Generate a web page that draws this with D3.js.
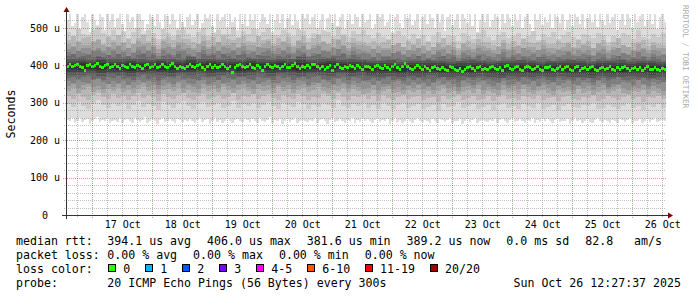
<!DOCTYPE html>
<html lang="en">
<head>
  <meta charset="UTF-8">
  <title>Smokeping - 10 days</title>
  <script src="https://cdn.jsdelivr.net/npm/d3@7/dist/d3.min.js"></script>
  <style>
    body { margin: 0; background: #fff; }
    svg { display: block; font-family: 'DejaVu Sans Mono', monospace; }
  </style>
</head>
<body>
<div id="grafica"></div>

<script>
// median rtt per hour (us), 240 hourly steps
const median = [
  398,401,396,399,403,397,394,386,399,402,396,400,404,397,393,399,401,395,398,403,396,392,399,397,
  394,402,398,393,400,396,391,399,403,395,398,401,394,397,402,396,393,400,404,397,392,398,395,391,
  396,401,397,393,399,403,394,390,398,402,395,399,393,397,401,396,392,398,381.6,395,399,403,398,394,
  397,401,395,392,399,394,386,398,403,396,393,400,397,391,398,402,395,393,399,404,396,392,398,395,
  399,394,401,403,396,392,398,390,395,400,385,397,402,395,391,398,394,400,397,392,399,395,390,396,
  398,393,390,396,400,394,391,399,395,389,397,401,393,390,396,406,398,392,389,395,399,393,390,396,
  391,387,394,398,392,389,395,390,386,397,393,389,386,392,383,390,395,398,391,387,393,396,389,392,
  389,395,398,392,388,393,387,396,399,391,388,394,397,390,386,393,398,395,389,392,396,390,387,394,
  393,397,390,386,392,396,389,394,398,390,387,393,396,386,391,395,389,393,397,390,387,392,395,389,
  392,396,390,387,393,389,395,397,391,386,392,395,389,393,387,391,396,390,388,393,390,386,392,389.2
]

// fastest ping of each hour (us)
const ping01 = [
  255,250,258,246,252,260,249,254,257,244,251,256,262,248,253,250,258,245,252,255,249,259,247,253,
  256,251,247,258,253,249,255,261,246,252,257,250,244,254,259,248,252,256,250,245,257,253,249,255,
  250,257,252,246,254,260,248,253,256,243,251,258,249,255,247,252,259,250,246,254,257,251,248,256,
  253,248,256,250,245,258,252,249,255,261,247,253,250,257,244,251,256,249,254,258,246,252,255,250,
  249,255,251,258,246,253,257,250,244,254,259,248,252,256,250,247,255,251,258,245,253,249,256,252,
  257,250,246,254,259,248,253,251,256,243,252,258,249,255,247,251,257,250,246,254,258,251,248,255,
  252,247,256,250,245,257,253,249,255,260,246,252,250,256,244,251,257,249,253,258,247,252,254,250,
  248,255,251,257,246,253,256,250,245,254,259,248,251,256,250,247,255,252,258,245,253,249,256,251,
  256,250,247,254,258,248,252,251,257,244,252,258,250,255,246,251,257,249,246,254,259,251,248,255,
  251,247,255,250,246,257,253,249,254,260,247,252,250,256,245,251,256,249,253,258,248,252,255,250
]

// lower pings, one value per 2 hours (us)
const ping02 = [
  296,288,303,291,284,299,306,293,287,300,290,298,283,295,304,289,297,292,281,301,
  294,286,299,305,290,283,296,302,288,293,299,287,292,304,285,297,291,300,286,295,
  303,290,284,298,293,288,301,296,282,294,289,300,295,287,306,292,285,297,291,299,
  287,295,282,298,290,284,293,300,286,291,296,283,289,294,279,297,288,292,301,285,
  290,297,284,288,295,281,293,299,287,290,283,296,291,286,298,284,289,294,280,292,
  297,288,285,293,290,299,282,287,295,289,284,292,298,286,291,280,294,289,296,287
]
const ping03 = [
  318,311,324,314,308,321,326,315,310,322,313,319,306,317,325,312,320,315,305,323,
  316,309,321,327,313,307,318,324,311,316,321,310,315,325,308,319,314,322,309,317,
  324,313,307,320,316,311,322,318,306,316,312,322,317,310,327,315,308,319,314,321,
  310,317,305,320,313,307,315,322,309,314,318,306,312,316,303,319,311,315,322,308,
  313,319,307,311,317,304,315,321,310,313,306,318,314,309,320,307,312,316,304,315,
  319,311,308,315,313,321,305,310,317,312,307,314,320,309,314,303,316,312,318,310
]
const ping04 = [
  331,338,327,335,341,329,333,325,337,332,340,328,334,326,336,342,330,335,324,333,
  337,331,340,327,334,329,325,339,332,336,328,342,333,326,335,339,330,324,337,332,
  334,327,341,331,336,325,333,338,329,335,342,330,326,334,332,339,328,336,331,324,
  327,333,322,331,337,325,329,321,333,328,335,324,330,322,332,338,326,331,320,329,
  333,327,336,323,330,325,321,335,328,332,324,337,329,322,331,335,326,320,333,328,
  330,323,336,327,332,321,329,334,325,331,338,326,322,330,328,335,324,332,327,320
]
const ping05 = [
  344,350,339,347,353,341,345,337,349,343,351,340,346,338,348,354,342,347,336,345,
  349,343,352,339,346,341,337,350,344,348,340,353,345,338,347,351,342,336,349,344,
  346,339,352,343,348,337,345,350,341,347,353,342,338,346,344,351,340,348,343,336,
  340,346,335,343,349,337,341,333,345,339,347,336,342,334,344,350,338,343,332,341,
  345,339,348,335,342,337,333,346,340,344,336,349,341,334,343,347,338,332,345,340,
  342,335,348,339,344,333,341,346,337,343,349,338,334,342,340,347,336,344,339,332
]
const ping06 = [
  358,352,361,355,349,360,363,354,351,359,353,357,348,356,362,352,358,355,347,361,
  356,350,359,364,353,349,357,362,351,355,360,351,354,363,349,358,353,360,350,356,
  362,353,348,359,356,352,361,357,347,355,352,360,356,350,364,354,349,358,353,359,
  354,348,357,351,345,356,359,350,347,355,349,353,344,352,358,348,354,351,343,357,
  352,346,355,360,349,345,353,358,347,351,356,347,350,359,345,354,349,356,346,352,
  358,349,344,355,352,348,357,353,343,351,348,356,352,346,360,350,345,354,349,355
]
const ping07 = [
  366,370,363,368,372,364,367,361,369,365,371,363,367,360,368,373,364,368,359,366,
  369,365,371,362,367,363,360,370,366,368,362,372,367,361,368,370,364,359,369,366,
  367,361,371,365,369,360,366,370,363,368,372,364,361,367,366,370,362,368,365,359,
  362,366,359,364,368,360,363,357,365,361,367,359,363,356,364,369,360,364,355,362,
  365,361,367,358,363,359,356,366,362,364,358,368,363,357,364,366,360,355,365,362,
  363,357,367,361,365,356,362,366,359,364,368,360,357,363,362,366,358,364,361,355
]

// pings around the median, one value per 4 hours (us)
const ping08 = [375,373,377,372,376,374,371,376,377,373,372,376,375,377,372,374,376,371,375,377,372,376,374,371,376,375,372,376,371,374,
                371,369,372,368,371,370,373,368,369,371,368,372,370,367,371,369,368,371,370,372,368,369,367,371,370,368,371,369,367,370]
const ping09 = [382,381,384,380,383,382,379,383,384,381,380,383,382,384,380,381,383,379,382,384,380,383,381,379,383,382,380,383,379,381,
                378,377,379,376,378,377,380,376,377,378,376,379,377,375,378,377,376,378,377,379,376,377,375,378,377,376,378,377,375,377]
const ping10 = [389,388,390,387,389,388,386,389,390,388,387,389,388,390,387,388,389,386,388,390,387,389,388,386,389,388,387,389,386,388,
                385,384,386,383,385,384,386,383,384,385,383,386,384,382,385,384,383,385,384,386,383,384,382,385,384,383,385,384,382,384]
const ping11 = [404,405,403,406,404,403,405,404,402,405,404,403,406,404,405,403,404,402,405,404,403,405,404,406,403,404,405,403,404,402,
                400,399,401,398,400,399,401,400,398,399,401,400,398,400,399,401,400,398,399,400,401,399,398,400,399,401,398,400,399,398]
const ping12 = [410,412,409,413,410,409,412,410,408,411,410,409,413,410,411,409,410,408,412,410,409,411,410,413,409,410,412,409,410,408,
                406,405,407,404,406,405,407,406,404,405,407,406,404,406,405,407,406,404,405,406,407,405,404,406,405,407,404,406,405,404]
const ping13 = [417,419,415,421,417,416,419,417,414,418,417,415,421,417,418,415,417,414,419,417,415,418,417,421,415,417,419,415,417,414,
                412,411,414,409,412,411,414,412,409,411,414,412,409,412,411,414,412,409,411,412,414,411,409,412,411,414,409,412,411,409]

// upper pings, one value per 2 hours (us)
const ping14 = [
  424,429,421,426,431,422,425,419,428,423,430,421,426,418,427,432,422,427,417,425,
  428,423,430,420,426,421,418,429,424,427,420,431,426,419,427,429,422,417,428,424,
  425,419,430,423,428,418,424,429,421,426,431,422,419,425,424,429,420,427,423,417,
  418,423,415,421,426,416,420,413,422,417,424,415,420,412,421,426,416,421,411,419,
  422,417,424,414,420,415,412,423,418,421,414,425,420,413,421,423,417,411,422,418,
  419,413,424,417,422,412,418,423,415,420,425,416,413,419,418,423,414,421,417,411
]
const ping15 = [
  435,429,439,432,427,438,442,433,428,437,431,436,426,434,441,430,437,433,425,440,
  434,428,438,443,431,426,436,441,429,433,439,429,432,442,427,437,431,439,428,435,
  441,431,426,438,434,430,440,436,425,433,430,439,435,428,443,432,427,437,431,438,
  429,423,433,426,421,432,436,427,422,431,425,430,420,428,435,424,431,427,419,434,
  428,422,431,437,425,421,429,435,423,427,432,423,426,436,421,430,425,433,422,428,
  435,425,420,431,428,424,434,430,419,427,424,433,428,422,437,426,421,430,425,431
]
const ping16 = [
  444,451,439,447,455,441,446,437,450,443,453,440,447,436,449,456,442,448,434,446,
  450,443,453,438,447,440,436,452,444,449,439,455,447,437,448,452,441,435,450,445,
  446,437,453,442,449,435,445,451,440,447,456,442,437,446,444,452,439,449,443,434,
  436,443,432,440,447,434,439,430,441,437,445,433,439,429,441,448,434,440,428,438,
  442,436,445,431,439,433,429,444,437,441,431,446,440,430,441,444,435,428,442,438,
  439,430,446,436,442,428,438,444,433,440,447,434,429,438,436,444,432,441,437,427
]
const ping17 = [
  458,450,465,454,447,463,468,455,449,462,452,459,445,457,466,451,460,454,443,464,
  456,448,462,469,453,446,458,466,450,455,463,449,454,467,446,460,453,462,448,457,
  466,452,445,461,456,450,464,459,444,455,451,462,457,448,469,454,446,460,453,461,
  451,444,457,447,441,455,460,448,442,454,446,452,439,450,458,444,453,449,437,457,
  450,443,455,461,447,441,451,459,444,449,455,445,448,460,441,453,447,457,443,450,
  458,447,440,454,451,445,456,452,438,449,445,455,450,442,461,447,441,453,446,454
]
const ping18 = [
  468,477,462,472,482,464,469,458,476,467,480,463,471,457,474,484,465,473,455,469,
  476,467,480,460,471,463,456,478,468,475,461,483,471,459,474,479,464,455,477,468,
  470,458,481,466,475,455,468,478,462,472,484,465,458,470,468,479,461,474,466,454,
  457,466,451,462,471,455,460,449,464,458,469,453,461,449,463,473,455,462,447,460,
  465,457,469,451,461,453,448,467,458,464,451,470,462,450,463,468,456,446,466,459,
  461,450,470,457,464,447,459,468,453,462,472,455,448,460,458,467,452,463,457,445
]
const ping19 = [
  490,479,497,484,476,495,501,486,478,494,482,491,474,488,500,480,493,485,471,497,
  487,477,494,503,483,475,490,499,479,486,495,478,484,501,475,492,483,496,477,489,
  500,482,474,494,487,479,498,491,472,486,481,495,488,477,503,484,475,492,483,494,
  480,472,487,475,468,484,491,477,470,483,474,481,466,479,489,472,482,478,464,487,
  479,471,485,493,476,468,480,490,473,478,486,473,477,492,468,483,476,488,470,480,
  490,475,467,484,481,474,487,482,463,478,473,486,480,470,493,476,469,483,475,485
]

// slowest ping of each hour (us)
const ping20 = [
  520,537,505,512,537,498,530,537,515,490,537,522,508,537,530,495,537,518,537,502,525,537,510,488,
  537,515,530,500,537,537,520,492,510,537,528,505,537,515,498,537,532,510,537,520,500,537,515,495,
  530,537,508,520,537,497,512,537,525,537,505,490,537,518,530,537,502,537,515,528,495,537,510,537,
  505,537,522,537,498,515,537,530,510,537,488,520,537,512,537,500,525,537,508,537,518,495,537,526,
  537,510,530,537,500,518,537,492,525,537,512,537,505,530,537,498,520,537,510,537,528,502,537,515,
  522,537,498,510,537,530,537,505,515,537,490,528,537,512,500,537,525,537,508,518,537,495,530,537,
  510,537,526,500,537,515,537,492,530,537,508,520,537,498,537,525,512,537,505,537,490,522,537,515,
  537,502,520,537,530,495,537,512,537,525,505,537,518,537,500,528,537,510,492,537,520,537,508,530,
  515,537,500,537,528,512,537,495,520,537,505,537,530,510,537,498,525,537,515,537,502,537,520,508,
  537,512,530,537,495,520,537,508,537,525,500,537,515,532,537,505,520,537,510,537,498,528,537,515
]

const yTicks = [0, 100, 200, 300, 400, 500]
const yTickLabels = ['  0  ', '100 u', '200 u', '300 u', '400 u', '500 u']

const rttStats = ['394.1 us avg', '406.0 us max', '381.6 us min', '389.2 us now', '0.0 ms sd', '82.8   am/s']
const lossStats = ['0.00 % avg', '0.00 % max', '0.00 % min', '0.00 % now']
const lossLabels = ['0', '1', '2', '3', '4-5', '6-10', '11-19', '20/20']
const lossColors = ['#26ff00', '#00b8ff', '#0059ff', '#7e00ff', '#ff00ff', '#ff5500', '#ff0000', '#a10000']
const probeText = '20 ICMP Echo Pings (56 Bytes) every 300s'
const stampText = 'Sun Oct 26 12:27:37 2025'

// smoke shades, outer band to inner band
const greys = ['#dddddd', '#cacaca', '#b7b7b7', '#a4a4a4', '#919191', '#7e7e7e', '#6b6b6b', '#585858', '#454545', '#323232']

ancho_total = 697
alto_total = 297
margin = { left: 66, top: 14, right: 31, bottom: 82 }
ancho = 600
alto = 201

svg = d3.select('#grafica')
  .append('svg')
  .attr('width', ancho_total)
  .attr('height', alto_total)

start = new Date(2025, 9, 16, 13, 30)
end = d3.timeHour.offset(start, median.length)

x = d3.scaleTime()
  .domain([start, end])
  .range([margin.left, margin.left + ancho])
y = d3.scaleLinear()
  .domain([0, 537])
  .range([margin.top + alto, margin.top])

// value of array for column i, whatever its resolution
pick = (arr, i, n) => arr[Math.min(arr.length - 1, Math.floor(i * arr.length / n))]

pings = [ping01, ping02, ping03, ping04, ping05, ping06, ping07, ping08, ping09, ping10,
         ping11, ping12, ping13, ping14, ping15, ping16, ping17, ping18, ping19, ping20]

n = median.length
columns = d3.range(n).map(i => ({
  t: d3.timeHour.offset(start, i),
  p: pings.map(a => pick(a, i, n)).sort(d3.ascending),
  m: median[i]
}))
stepData = columns.concat([{ t: end, p: columns[n - 1].p, m: columns[n - 1].m }])

// smoke
smoke = svg.append('g').attr('shape-rendering', 'crispEdges')
greys.forEach((c, k) => {
  area = d3.area()
    .curve(d3.curveStepAfter)
    .x(d => x(d.t))
    .y0(d => y(d.p[k]))
    .y1(d => y(d.p[19 - k]))
  smoke.append('path')
    .attr('fill', c)
    .attr('d', area(stepData))
})

// median, coloured by loss (all 0 here)
medArea = d3.area()
  .curve(d3.curveStepAfter)
  .x(d => x(d.t))
  .y0(d => y(d.m) + 1.5)
  .y1(d => y(d.m) - 1.5)
svg.append('path')
  .attr('fill', lossColors[0])
  .attr('shape-rendering', 'crispEdges')
  .attr('d', medArea(stepData))

// grid on top
grid = svg.append('g').attr('shape-rendering', 'crispEdges').attr('stroke-dasharray', '1,1')
y0 = margin.top + alto
y1 = margin.top
x0 = margin.left
x1 = margin.left + ancho

days = d3.timeDay.range(start, end)
minorX = d3.timeHour.every(6).range(start, end).filter(d => d.getHours() !== 0)
minorY = d3.range(20, 537, 20).filter(v => v % 100 !== 0)
majorY = yTicks.filter(v => v > 0)

grid.selectAll('.mx').data(minorX).enter().append('line')
  .attr('x1', d => Math.round(x(d)) + 0.5).attr('x2', d => Math.round(x(d)) + 0.5)
  .attr('y1', y0 + 2).attr('y2', y1)
  .attr('stroke', 'rgba(140,140,140,0.55)')
grid.selectAll('.my').data(minorY).enter().append('line')
  .attr('y1', d => Math.round(y(d)) + 0.5).attr('y2', d => Math.round(y(d)) + 0.5)
  .attr('x1', x0 - 2).attr('x2', x1)
  .attr('stroke', 'rgba(140,140,140,0.55)')
grid.selectAll('.Mx').data(days).enter().append('line')
  .attr('x1', d => Math.round(x(d)) + 0.5).attr('x2', d => Math.round(x(d)) + 0.5)
  .attr('y1', y0 + 3).attr('y2', y1)
  .attr('stroke', 'rgba(200,40,40,0.5)')
grid.selectAll('.My').data(majorY).enter().append('line')
  .attr('y1', d => Math.round(y(d)) + 0.5).attr('y2', d => Math.round(y(d)) + 0.5)
  .attr('x1', x0 - 3).attr('x2', x1)
  .attr('stroke', 'rgba(200,40,40,0.5)')

// axes lines and arrows
axisCol = '#333'
svg.append('line')
  .attr('x1', x0 - 4).attr('x2', x1 + 4)
  .attr('y1', y0 + 0.5).attr('y2', y0 + 0.5)
  .attr('stroke', axisCol)
svg.append('line')
  .attr('x1', x0 + 0.5).attr('x2', x0 + 0.5)
  .attr('y1', y0 + 4).attr('y2', y1 - 4)
  .attr('stroke', axisCol)
svg.append('path')
  .attr('fill', '#7f0000')
  .attr('d', `M${x1 + 2},${y0 - 2.5}L${x1 + 2},${y0 + 3.5}L${x1 + 7},${y0 + 0.5}Z`)
svg.append('path')
  .attr('fill', '#7f0000')
  .attr('d', `M${x0 - 2.5},${y1 - 2}L${x0 + 3.5},${y1 - 2}L${x0 + 0.5},${y1 - 7}Z`)

// tick labels
xAxisCall = d3.axisBottom(x)
  .tickValues(days.map(d => d3.timeHour.offset(d, 12)))
  .tickFormat(d3.timeFormat('%d %b'))
  .tickSize(0)
  .tickPadding(6)
xAxis = svg.append('g')
  .attr('transform', `translate(0, ${y0})`)
  .call(xAxisCall)
xAxis.select('.domain').remove()
xAxis.selectAll('text')
  .attr('font-family', 'DejaVu Sans Mono')
  .attr('font-size', 10)
  .attr('fill', '#000')

yAxisCall = d3.axisLeft(y)
  .tickValues(yTicks)
  .tickFormat((d, i) => yTickLabels[i])
  .tickSize(0)
  .tickPadding(6)
yAxis = svg.append('g')
  .attr('transform', `translate(${x0}, 0)`)
  .call(yAxisCall)
yAxis.select('.domain').remove()
yAxis.selectAll('text')
  .attr('font-family', 'DejaVu Sans Mono')
  .attr('font-size', 10)
  .attr('fill', '#000')
  .attr('xml:space', 'preserve')
  .style('white-space', 'pre')

// y title
svg.append('text')
  .attr('transform', 'translate(15, 114) rotate(-90)')
  .attr('text-anchor', 'middle')
  .attr('font-size', 11.6)
  .text('Seconds')

// watermark
svg.append('text')
  .attr('transform', 'translate(683, 5) rotate(90)')
  .attr('font-size', 7.8)
  .attr('fill', '#aaaaaa')
  .text('RRDTOOL / TOBI OETIKER')

// legend
legend = svg.append('g').attr('font-size', 11.6).attr('fill', '#000')
colX = 107.3
rows = [245, 259, 273, 287]

function putRow(label, items, yy) {
  legend.append('text').attr('x', 16).attr('y', yy).text(label)
  let xx = colX
  items.forEach(s => {
    t = legend.append('text')
      .attr('x', xx).attr('y', yy)
      .attr('xml:space', 'preserve')
      .style('white-space', 'pre')
      .text(s)
    xx += t.node().getComputedTextLength() + 16
  })
}
putRow('median rtt:', rttStats, rows[0])
putRow('packet loss:', lossStats, rows[1])

legend.append('text').attr('x', 16).attr('y', rows[2]).text('loss color:')
lx = colX
lossLabels.forEach((s, i) => {
  legend.append('rect')
    .attr('x', Math.round(lx) + 1.5).attr('y', rows[2] - 8.5)
    .attr('width', 7).attr('height', 7)
    .attr('fill', lossColors[i])
    .attr('stroke', '#000')
  t = legend.append('text').attr('x', lx + 16).attr('y', rows[2]).text(s)
  lx = lx + 16 + t.node().getComputedTextLength() + 14
})

legend.append('text').attr('x', 16).attr('y', rows[3]).text('probe:')
legend.append('text').attr('x', colX).attr('y', rows[3]).text(probeText)
legend.append('text').attr('x', 681).attr('y', rows[3]).attr('text-anchor', 'end').text(stampText)
</script>
</body>
</html>
